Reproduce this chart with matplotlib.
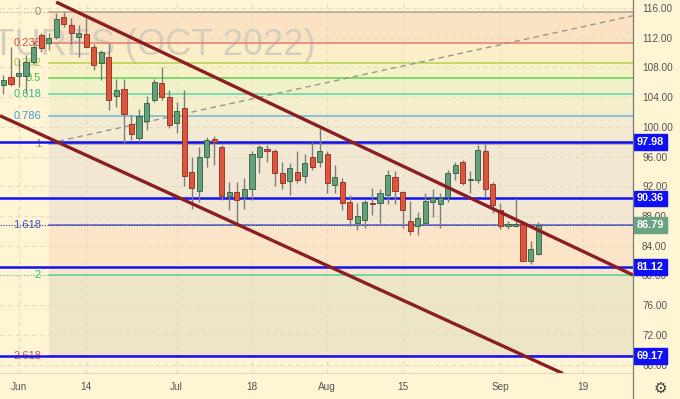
import matplotlib.pyplot as plt
from matplotlib.transforms import blended_transform_factory

# daily bars, index 0 = 1 Jun 2022 (exchange holidays skipped)
bar_index = list(range(-2, 70))
opens = [105.7, 106.7, 106.9, 106.9, 108.7, 112.4, 111.3, 112.1, 114.8, 113.7,
         112.1, 112.5, 110.7, 108.6, 109.4, 104.2, 105.1, 100.4, 98.5, 100.8,
         103.6, 105.9, 104.0, 100.5, 102.5, 93.9, 91.4, 95.9, 98.4, 97.3,
         90.7, 91.3, 90.6, 91.6, 95.9, 97.0, 96.8, 93.8, 92.7, 93.9,
         93.4, 96.0, 95.3, 96.4, 92.2, 92.6, 89.9, 87.0, 87.5, 89.8,
         89.7, 90.8, 93.3, 91.3, 87.3, 86.7, 87.1, 89.9, 89.6, 90.5,
         93.8, 95.3, 92.9, 92.9, 96.8, 92.3, 88.8, 86.6, 86.7, 86.9,
         82.0, 82.9]
highs = [107.0, 110.7, 109.2, 109.7, 111.5, 112.6, 112.6, 115.3, 115.4, 114.6,
         113.7, 114.6, 111.2, 110.4, 111.2, 106.5, 106.5, 101.6, 102.4, 104.1,
         106.5, 108.0, 105.0, 103.4, 105.0, 95.9, 97.3, 98.7, 98.8, 97.6,
         92.6, 92.6, 93.1, 96.7, 97.6, 97.6, 97.0, 95.3, 95.1, 96.7,
         96.4, 98.0, 99.8, 96.7, 94.9, 93.1, 90.8, 89.7, 90.2, 91.8,
         91.6, 94.2, 94.1, 91.4, 90.0, 88.6, 91.1, 91.6, 91.1, 94.2,
         95.3, 95.6, 94.0, 97.5, 97.7, 92.6, 89.7, 87.3, 90.4, 87.2,
         84.6, 87.2]
lows = [104.4, 105.5, 105.4, 104.6, 108.4, 110.1, 110.4, 111.8, 113.5, 111.2,
        109.4, 110.6, 107.7, 106.3, 102.3, 102.7, 97.8, 98.3, 98.0, 99.6,
        103.4, 103.6, 99.8, 99.2, 92.0, 89.0, 89.9, 94.6, 94.9, 90.2,
        88.8, 86.6, 89.0, 90.2, 93.8, 95.3, 92.0, 91.7, 90.8, 92.4,
        92.4, 94.2, 94.6, 91.1, 91.1, 88.8, 86.6, 86.1, 86.4, 88.1,
        87.0, 89.6, 89.6, 86.4, 85.5, 85.5, 86.9, 87.9, 86.4, 89.9,
        92.9, 92.2, 91.1, 92.4, 90.6, 88.4, 86.2, 86.3, 86.5, 81.9,
        81.6, 82.8]
closes = [106.3, 105.8, 107.3, 108.7, 110.7, 110.6, 111.9, 114.5, 113.9, 112.7,
          112.6, 110.8, 108.3, 110.1, 103.6, 105.0, 101.7, 99.0, 101.5, 103.2,
          106.0, 104.0, 100.2, 102.2, 93.4, 91.8, 96.0, 98.2, 98.0, 90.7,
          91.2, 90.2, 91.7, 96.3, 97.3, 96.8, 93.8, 92.4, 94.4, 92.8,
          95.2, 94.6, 96.7, 92.4, 93.2, 89.7, 87.6, 88.0, 89.9, 89.6,
          91.1, 93.5, 91.4, 88.8, 86.0, 87.7, 90.0, 90.4, 90.4, 93.8,
          94.9, 92.5, 93.0, 96.9, 91.6, 89.5, 86.6, 86.9, 86.9, 82.0,
          83.5, 86.79]

x_ticks = [0, 9, 21, 31, 41, 51, 64, 75]
x_labels = ["Jun", "14", "Jul", "18", "Aug", "15", "Sep", "19"]
price_ticks = list(range(68, 117, 4))

support_levels = [97.98, 90.36, 81.12, 69.17]
last_price = 86.79

# fibonacci retracement drawn from bar 4
fib_start = 4
fib_zero = 115.4
fib_one = 97.72
fib_levels = [0, 0.236, 0.382, 0.5, 0.618, 0.786, 1, 1.618, 2, 2.618]
fib_labels = ["0", "0.236", "0.382", "0.5", "0.618", "0.786", "1", "1.618", "2", "2.618"]
fib_line_colors = ["#a8a49c", "#e87a6e", "#b5d14f", "#5bd15b", "#5ad8a6", "#6cb4e0",
                   "#a8a49c", "#5b63c8", "#4fd1a0", "#e2584e"]
fib_text_colors = ["#8f8b84", "#dc4f45", "#a3c436", "#35c435", "#30c08c", "#3f9ed8",
                   "#8f8b84", "#4a52c0", "#30c08c", "#dc4f45"]
fib_fill_colors = ["#fbe2c3", "#fcefc8", "#f6f2c6", "#f1f1c9", "#f3eecc", "#f2ebd2",
                   "#f1e7d3", "#fce4c8", "#ede6c6"]

# trend lines (bar index, price)
channel_upper = [(5.0, 116.8), (81.6, 80.06)]
channel_lower = [(-2.46, 101.5), (72.3, 66.8)]
trend_dashed = [(4.05, 97.8), (81.6, 114.96)]

BG = "#fff4d4"
GRID = "#e6dcc2"
TXT = "#555555"
UP = "#62a07c"
UP_EDGE = "#2f5e40"
DOWN = "#e0533d"
DOWN_EDGE = "#8c2c1e"
WICK = "#7d7d7d"
BLUE = "#1010f5"

plt.rcParams["font.family"] = ["Liberation Sans", "DejaVu Sans"]

fig = plt.figure(figsize=(6.8, 3.99), dpi=100, facecolor=BG)
ax = fig.add_axes([0, 1 - 373 / 399, 633 / 680, 373 / 399])
ax.set_facecolor(BG)
x_min, x_max = -2.46, 81.6
ax.set_xlim(x_min, x_max)
ax.set_ylim(66.87, 117.08)

# grid
for t in x_ticks:
    ax.axvline(t, color=GRID, lw=0.8, ls=(0, (4, 3)), zorder=0.5)
for p in price_ticks:
    ax.axhline(p, color=GRID, lw=0.8, ls=(0, (4, 3)), zorder=0.5)

# fib bands and lines
fib_prices = [fib_zero - lv * (fib_zero - fib_one) for lv in fib_levels]
for k in range(len(fib_prices) - 1):
    ax.fill_between([fib_start, x_max], fib_prices[k + 1], fib_prices[k],
                    color=fib_fill_colors[k], lw=0, zorder=0.3)
for k, p in enumerate(fib_prices):
    ax.plot([fib_start, x_max], [p, p], color=fib_line_colors[k], lw=1.1, zorder=1)
    if fib_labels[k] in ("0", "2"):
        ax.plot([x_min, fib_start], [p, p], color=fib_line_colors[k], lw=0.8,
                ls=(0, (1, 2)), zorder=1)
    ax.text(fib_start - 1.0, p, fib_labels[k], color=fib_text_colors[k],
            fontsize=8, ha="right", va="center", zorder=1.2)

# watermark
ax.text(39.4, 111.0, "CRUDE OIL FUTURES (OCT 2022)", fontsize=26,
        color="#d5cebf", ha="right", va="center", zorder=0.8, clip_on=True)

# dashed trend line
ax.plot([trend_dashed[0][0], trend_dashed[1][0]], [trend_dashed[0][1], trend_dashed[1][1]],
        color="#9a968e", lw=1.0, ls=(0, (4, 3)), zorder=1.5)

# horizontal support / resistance
for lvl in support_levels:
    ax.axhline(lvl, color=BLUE, lw=1.8, zorder=2)

# candles
for i, o, h, l, c in zip(bar_index, opens, highs, lows, closes):
    up = c >= o
    ax.vlines(i, l, h, color=WICK, lw=1.0, zorder=3)
    ax.bar(i, max(abs(c - o), 0.12), bottom=min(o, c), width=0.68,
           color=UP if up else DOWN, edgecolor=UP_EDGE if up else DOWN_EDGE,
           linewidth=0.6, zorder=4)

# channel
for seg in (channel_upper, channel_lower):
    ax.plot([seg[0][0], seg[1][0]], [seg[0][1], seg[1][1]], color="#8b1e22",
            lw=2.4, zorder=5, solid_capstyle="butt")

# last price line
ax.axhline(last_price, color="#2b3c9e", lw=0.8, ls=(0, (1, 1.5)), zorder=2.5)

# axes
for side in ("top", "left"):
    ax.spines[side].set_visible(False)
ax.spines["bottom"].set_color("#e2d6b8")
ax.spines["bottom"].set_linewidth(0.8)
ax.spines["right"].set_visible(False)
ax.yaxis.tick_right()
ax.set_yticks(price_ticks)
ax.set_yticklabels([f"{p:.2f}" for p in price_ticks])
ax.set_xticks(x_ticks)
ax.set_xticklabels(x_labels)
ax.tick_params(axis="y", length=0, pad=6.5, labelsize=7.2, labelcolor=TXT)
ax.tick_params(axis="x", length=0, pad=6.5, labelsize=7.2, labelcolor=TXT)

fig.add_artist(plt.Line2D([633 / 680, 633 / 680], [0, 1], color="#7a7a7a", lw=0.9))

# price labels on the scale
trans = blended_transform_factory(ax.transAxes, ax.transData)
for lvl in support_levels:
    ax.text(1.0 + 4 / 633, lvl, f"{lvl:.2f}", transform=trans, color="white",
            fontsize=7.8, fontweight="bold", ha="left", va="center", clip_on=False,
            zorder=10, bbox=dict(boxstyle="square,pad=0.25", fc=BLUE, ec=BLUE))
ax.text(1.0 + 4 / 633, last_price, f"{last_price:.2f}", transform=trans, color="white",
        fontsize=7.8, fontweight="bold", ha="left", va="center", clip_on=False,
        zorder=10, bbox=dict(boxstyle="square,pad=0.25", fc="#6aa382", ec="#6aa382"))

fig.text(660 / 680, 1 - 388 / 399, "\u2699", fontsize=11, color="#444444",
         ha="center", va="center", family="DejaVu Sans")

fig.savefig("out.png", dpi=100, facecolor=BG)
